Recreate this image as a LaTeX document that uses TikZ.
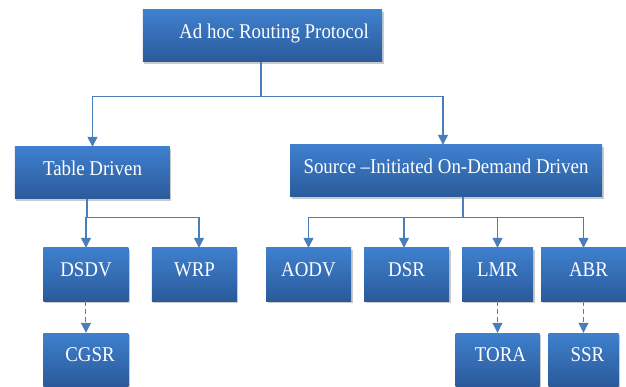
\documentclass[tikz,border=0pt]{standalone}
\usepackage{fontspec}
\setmainfont[FakeStretch=0.9]{Liberation Serif}
\usetikzlibrary{positioning,shadows,arrows.meta}
\definecolor{boxtop}{HTML}{3F80CE}
\definecolor{boxbottom}{HTML}{2A5A9A}
\definecolor{linkblue}{HTML}{4A7EBB}

\begin{document}
\begin{tikzpicture}[node distance=85pt, font=\fontsize{21}{25}\selectfont]
    \tikzstyle{protocol} = [rectangle, text=white, minimum width=85pt, minimum height=53pt,
                            inner sep=0pt, text height=12.5pt, text depth=7.8pt,
                            top color=boxtop, bottom color=boxbottom,
                            drop shadow={shadow xshift=1.5pt, shadow yshift=-2pt, opacity=0.35, fill=black!60}]
    \tikzstyle{link} = [draw=linkblue, line width=1.3pt]
    \tikzstyle{arrow} = [link, -{Triangle[length=10pt,width=10pt]}]
    \tikzstyle{dashedarrow} = [arrow, line width=1pt, dash pattern=on 5pt off 3pt]
  \useasboundingbox (-262.5pt,36pt) rectangle (363.5pt,-351pt);
  \node[protocol, minimum width=239pt, minimum height=52pt] (root) {\hspace*{23pt}Ad hoc Routing Protocol};
  \node[protocol, below of =root, minimum width=155pt, minimum height=52pt, xshift=-170pt, yshift=-52pt] (table) {Table Driven};
  \node[protocol, below of =root, minimum width=312pt, minimum height=52pt, xshift=183.5pt, yshift=-50pt] (source) {Source –Initiated On-Demand Driven};
  \node[protocol, below of =table, xshift=-6.5pt, yshift=-16.5pt] (dsdv) {DSDV};
  \node[protocol, below of =table, xshift=102pt, yshift=-16.5pt] (wrp) {WRP};
  \node[protocol, below of =source, xshift=-137.5pt, yshift=-18.5pt] (aodv) {AODV};
  \node[protocol, below of =source, xshift=-39.5pt, yshift=-18.5pt] (dsr) {DSR};
  \node[protocol, below of =source, minimum width=71pt, xshift=51.5pt, yshift=-18.5pt] (lmr) {LMR};
  \node[protocol, below of =source, xshift=137.5pt, yshift=-18.5pt] (abr) {\hspace*{10pt}ABR};
  \node[protocol, below of =dsdv] (cgsr) {\hspace*{8pt}CGSR};
  \node[protocol, below of =lmr, minimum width=84pt] (tora) {\hspace*{6pt}TORA};
  \node[protocol, below of =abr, minimum width=70pt] (ssr) {\hspace*{8pt}SSR};
  \coordinate (rootfork) at ([xshift=-1.5pt, yshift=-34pt]root.south);
  \coordinate (tablefork) at ([xshift=-5.5pt, yshift=-18pt]table.south);
  \coordinate (sourcefork) at ([xshift=17pt, yshift=-20pt]source.south);
  \draw[link] (rootfork |- root.south) -- (rootfork);
  \draw[arrow] (rootfork) -| (table);
  \draw[arrow] (rootfork) -| ([xshift=-3pt]source.north);
  \draw[link] (tablefork |- table.south) -- (tablefork);
  \draw[arrow] (tablefork) -| (dsdv);
  \draw[arrow] (tablefork) -| ([xshift=4.5pt]wrp.north);
  \draw[link] (sourcefork |- source.south) -- (sourcefork);
  \draw[arrow] (sourcefork) -| (aodv);
  \draw[arrow] (sourcefork) -| ([xshift=-2.5pt]dsr.north);
  \draw[arrow] (sourcefork) -| (lmr);
  \draw[arrow] (sourcefork) -| (abr);
  \draw[dashedarrow] (dsdv) -- (cgsr);
  \draw[dashedarrow] (lmr) -- (tora);
  \draw[dashedarrow] (abr) -- (ssr);
  \end{tikzpicture}
\end{document}
